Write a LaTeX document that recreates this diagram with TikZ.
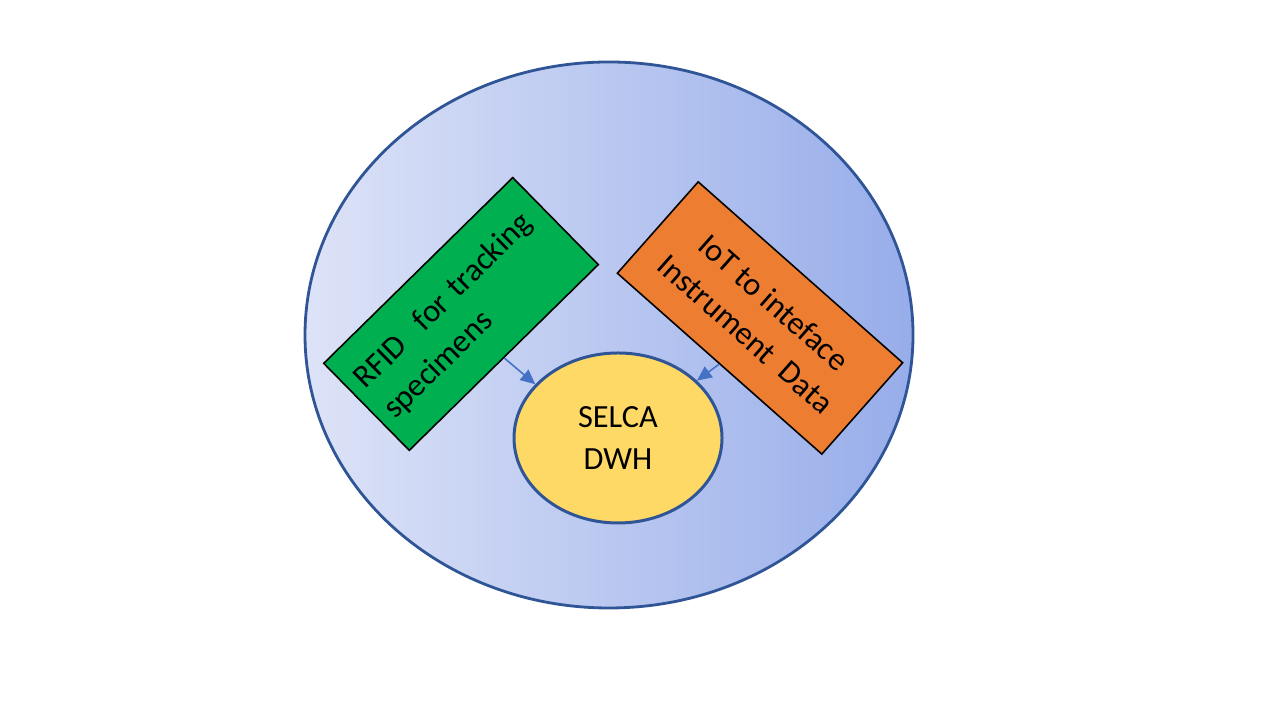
\documentclass[tikz,border=0pt]{standalone}
\usepackage{fontspec}
\setmainfont{Carlito}
\usepackage{tikz}
\usetikzlibrary{shapes.geometric,arrows.meta}
\definecolor{edgeblue}{HTML}{2F5597}
\definecolor{arrowblue}{HTML}{4472C4}
\definecolor{boxgreen}{HTML}{00B050}
\definecolor{boxorange}{HTML}{ED7D31}
\definecolor{dwhyellow}{HTML}{FFD966}
\definecolor{shadeleft}{HTML}{DDE3F7}
\definecolor{shaderight}{HTML}{97ADEA}
\tikzstyle{tagbox} = [draw=black, line width=0.45pt, minimum width=2.68cm, minimum height=1.22cm, inner sep=0pt, font=\fontsize{9.2}{12}\selectfont]
\tikzset{
  line/.style ={draw=arrowblue, line width=0.45pt, -{Triangle[length=4.2pt,width=3.8pt]}, shorten >=0pt}
}

\begin{document}
\begin{tikzpicture}
	\useasboundingbox (0,0) rectangle (12.8,7.2);
	% outer shaded ellipse
	\node [ellipse, draw=edgeblue, line width=0.8pt, left color=shadeleft, right color=shaderight, minimum width=6.08cm, minimum height=5.46cm, inner sep=0pt] (lab) at (6.09,3.85) {};
	% the data warehouse
	\node [ellipse, draw=edgeblue, line width=0.85pt, fill=dwhyellow, minimum width=2.08cm, minimum height=1.70cm, inner sep=0pt, align=center, font=\fontsize{9.2}{12}\selectfont] (selca) at (6.18,2.82) {SELCA\\DWH};
	% the two feeds
	\node [tagbox, fill=boxgreen, rotate=44.5, minimum width=2.65cm, text width=2.42cm, align=left] (rfid) at (4.61,4.06) {RFID\ \ for tracking\\specimens};
	\node [tagbox, fill=boxorange, rotate=-41.5, minimum width=2.73cm, align=center] (iot) at (7.60,4.02) {IoT to inteface\\Instrument\ \ Data};
	\draw [line] (rfid.south) -- (selca.147);
	\draw [line] (iot.south) -- (selca.36);

\end{tikzpicture}
\end{document}
